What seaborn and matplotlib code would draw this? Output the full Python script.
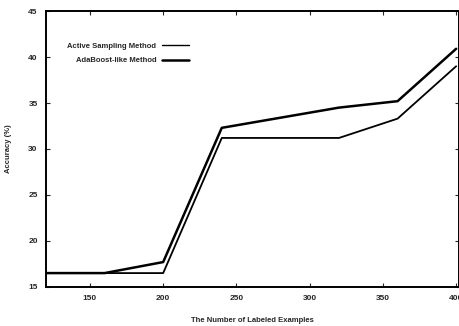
import matplotlib
matplotlib.use("Agg")
import matplotlib.pyplot as plt
import pandas as pd
import seaborn as sns

# number of labeled examples
examples = [120, 160, 200, 240, 280, 320, 360, 400]
# accuracy (%) per method
active_sampling = [16.5, 16.5, 16.5, 31.2, 31.2, 31.2, 33.3, 39.0]
adaboost_like = [16.5, 16.5, 17.7, 32.3, 33.4, 34.5, 35.2, 40.9]

METHODS = ["Active Sampling Method", "AdaBoost-like Method"]

df = pd.concat([
    pd.DataFrame({"examples": examples, "accuracy": active_sampling, "method": METHODS[0]}),
    pd.DataFrame({"examples": examples, "accuracy": adaboost_like, "method": METHODS[1]}),
], ignore_index=True)

sns.set_style("ticks")
plt.rcParams["font.family"] = ["Liberation Sans", "DejaVu Sans"]
plt.rcParams["font.weight"] = "bold"

fig = plt.figure(figsize=(4.6, 3.26), dpi=100)
ax = fig.add_axes([0.1, 0.12, 0.898, 0.846])

sns.lineplot(data=df, x="examples", y="accuracy", hue="method", size="method",
             sizes={METHODS[0]: 1.3, METHODS[1]: 1.8},
             palette={m: "black" for m in METHODS}, ax=ax, legend=False)

ax.set_xlim(120, 402)
ax.set_ylim(15, 45)
ax.set_xticks([150, 200, 250, 300, 350, 400])
ax.set_yticks([15, 20, 25, 30, 35, 40, 45])
ax.tick_params(direction="in", length=3, width=0.8, labelsize=6,
               top=True, right=True, pad=6)
for lbl in ax.get_xticklabels() + ax.get_yticklabels():
    lbl.set_fontweight("bold")
for sp in ax.spines.values():
    sp.set_linewidth(1.4)
    sp.set_color("black")

ax.set_xlabel("The Number of Labeled Examples", fontsize=5.5, fontweight="bold", labelpad=11)
ax.set_ylabel("Accuracy (%)", fontsize=5.5, fontweight="bold", labelpad=12)

handles = [plt.Line2D([], [], color="black", lw=1.0),
           plt.Line2D([], [], color="black", lw=1.8)]
ax.legend(handles, METHODS, loc="upper left", bbox_to_anchor=(0.035, 0.91),
          markerfirst=False, frameon=False, handlelength=3.5,
          handletextpad=0.8, labelspacing=0.9, prop={"weight": "bold", "size": 5.5})

fig.savefig("out.png", dpi=100)
